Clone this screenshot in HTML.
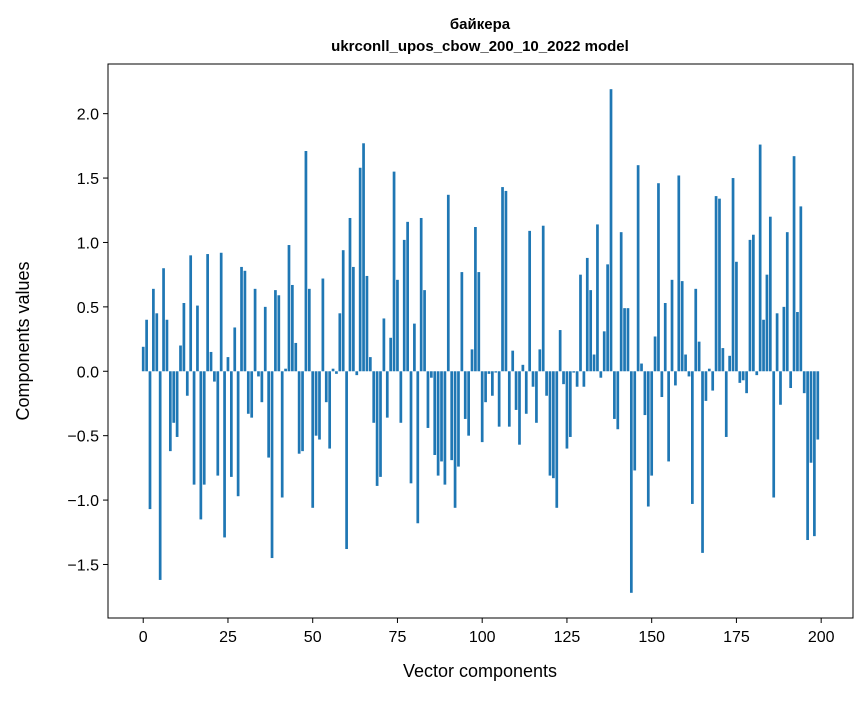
<!DOCTYPE html>
<html><head><meta charset="utf-8"><style>
body{margin:0;background:#fff;}
svg text{font-family:"Liberation Sans","DejaVu Sans",sans-serif;}
</style></head><body>
<svg id="chart" width="867" height="696" xmlns="http://www.w3.org/2000/svg">
<rect width="867" height="696" fill="#fff"/>
<text x="480" y="29" text-anchor="middle" font-size="15" font-weight="bold">байкера</text>
<text x="480" y="51" text-anchor="middle" font-size="15" font-weight="bold">ukrconll_upos_cbow_200_10_2022 model</text>
<g id="bars"></g>
<g id="axes"></g>
<rect x="108" y="64" width="745" height="554" fill="none" stroke="#000" stroke-width="1"/>
<text x="480" y="677" text-anchor="middle" font-size="18">Vector components</text>
<text transform="translate(29,341) rotate(-90)" text-anchor="middle" font-size="18">Components values</text>
</svg>
<script>
const values = [0.19,0.40,-1.07,0.64,0.45,-1.62,0.80,0.40,-0.62,-0.40,
-0.51,0.20,0.53,-0.19,0.90,-0.88,0.51,-1.15,-0.88,0.91,
0.15,-0.08,-0.81,0.92,-1.29,0.11,-0.82,0.34,-0.97,0.81,
0.78,-0.33,-0.36,0.64,-0.04,-0.24,0.50,-0.67,-1.45,0.63,
0.59,-0.98,0.02,0.98,0.67,0.22,-0.64,-0.62,1.71,0.64,
-1.06,-0.50,-0.53,0.72,-0.24,-0.60,0.02,-0.02,0.45,0.94,
-1.38,1.19,0.81,-0.03,1.58,1.77,0.74,0.11,-0.40,-0.89,
-0.82,0.41,-0.36,0.26,1.55,0.71,-0.40,1.02,1.16,-0.87,
0.37,-1.18,1.19,0.63,-0.44,-0.05,-0.65,-0.81,-0.70,-0.88,
1.37,-0.69,-1.06,-0.74,0.77,-0.37,-0.50,0.17,1.12,0.77,
-0.55,-0.24,-0.02,-0.19,-0.01,-0.43,1.43,1.40,-0.43,0.16,
-0.30,-0.57,0.05,-0.33,1.09,-0.12,-0.40,0.17,1.13,-0.19,
-0.81,-0.83,-1.06,0.32,-0.10,-0.60,-0.51,-0.01,-0.12,0.75,
-0.12,0.88,0.63,0.13,1.14,-0.05,0.31,0.83,2.19,-0.37,
-0.45,1.08,0.49,0.49,-1.72,-0.77,1.60,0.06,-0.34,-1.05,
-0.81,0.27,1.46,-0.20,0.53,-0.70,0.71,-0.11,1.52,0.70,
0.13,-0.04,-1.03,0.64,0.23,-1.41,-0.23,0.02,-0.15,1.36,
1.34,0.18,-0.51,0.12,1.50,0.85,-0.09,-0.07,-0.17,1.02,
1.06,-0.03,1.76,0.40,0.75,1.20,-0.98,0.45,-0.26,0.50,
1.08,-0.13,1.67,0.46,1.28,-0.17,-1.31,-0.71,-1.28,-0.53];
const xTicks = [0,25,50,75,100,125,150,175,200];
const yTicks = [-1.5,-1.0,-0.5,0.0,0.5,1.0,1.5,2.0];
const yTickLabels = ["−1.5","−1.0","−0.5","0.0","0.5","1.0","1.5","2.0"];

const NS="http://www.w3.org/2000/svg";
const L=108,R=853,T=64,B=618;
const n=values.length;
const xmin=-0.4-0.05*(n-1+0.8), xmax=n-1+0.4+0.05*(n-1+0.8);
const vmin=Math.min(...values), vmax=Math.max(...values), pad=0.05*(vmax-vmin);
const ymin=Math.min(0,vmin)-pad, ymax=Math.max(0,vmax)+pad;
const xs=v=>L+(v-xmin)/(xmax-xmin)*(R-L);
const ys=v=>B-(v-ymin)/(ymax-ymin)*(B-T);
const bars=document.getElementById('bars');
values.forEach((v,i)=>{
  const r=document.createElementNS(NS,'rect');
  const x0=xs(i-0.4),x1=xs(i+0.4);
  const y0=ys(Math.max(v,0)),y1=ys(Math.min(v,0));
  r.setAttribute('x',x0);r.setAttribute('width',x1-x0);
  r.setAttribute('y',y0);r.setAttribute('height',Math.max(y1-y0,0.5));
  r.setAttribute('fill','#1f77b4');
  
  
  bars.appendChild(r);
});
const ax=document.getElementById('axes');
xTicks.forEach(t=>{
  const x=xs(t);
  const l=document.createElementNS(NS,'line');
  l.setAttribute('x1',x);l.setAttribute('x2',x);l.setAttribute('y1',B);l.setAttribute('y2',B+5);
  l.setAttribute('stroke','#000');
  
  
  ax.appendChild(l);
  const tx=document.createElementNS(NS,'text');
  tx.setAttribute('x',x);tx.setAttribute('y',B+24);tx.setAttribute('text-anchor','middle');tx.setAttribute('font-size','16');
  tx.textContent=t;
  
  
  ax.appendChild(tx);
});
yTicks.forEach((t,k)=>{
  const y=ys(t);
  const l=document.createElementNS(NS,'line');
  l.setAttribute('x1',L-5);l.setAttribute('x2',L);l.setAttribute('y1',y);l.setAttribute('y2',y);
  l.setAttribute('stroke','#000');
  
  
  ax.appendChild(l);
  const tx=document.createElementNS(NS,'text');
  tx.setAttribute('x',L-9);tx.setAttribute('y',y+6);tx.setAttribute('text-anchor','end');tx.setAttribute('font-size','16');
  tx.textContent=yTickLabels[k];
  
  
  ax.appendChild(tx);
});
</script>
</body></html>
